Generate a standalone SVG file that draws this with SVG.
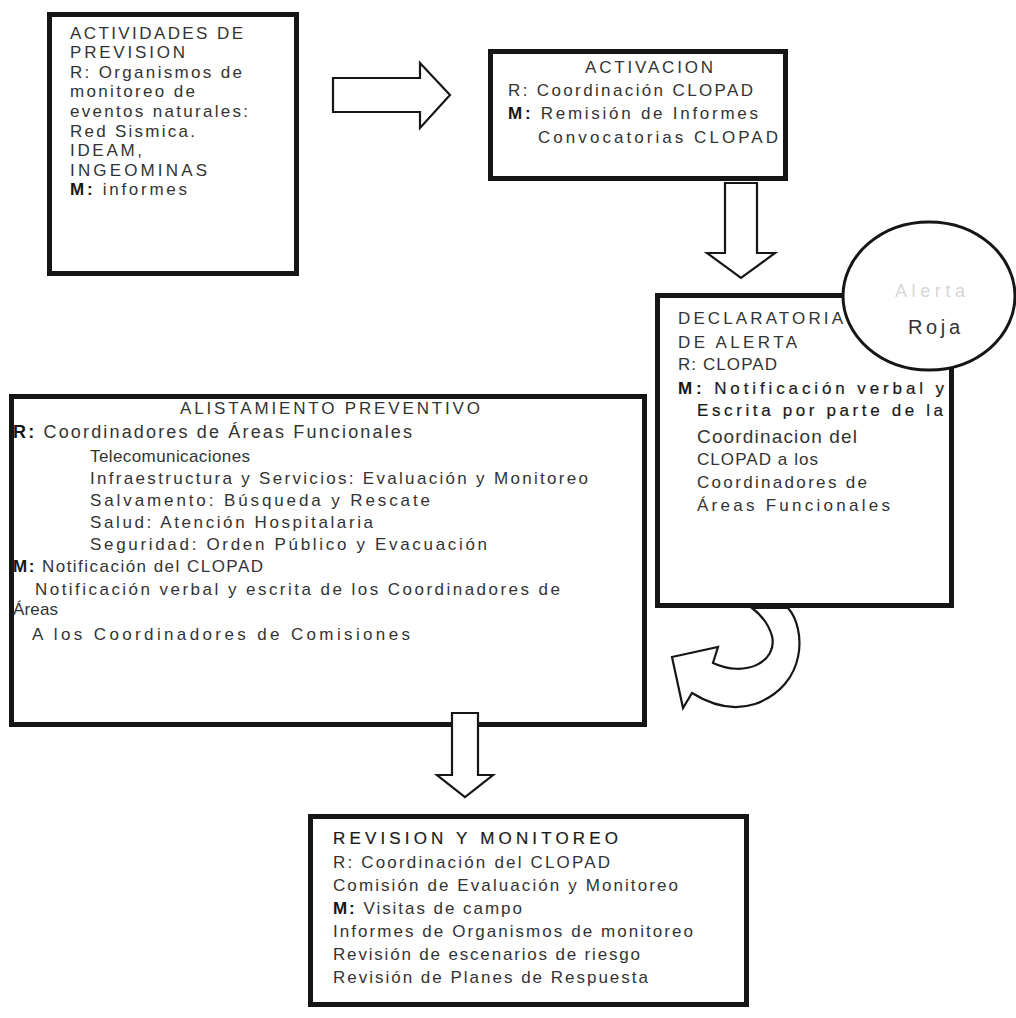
<svg xmlns="http://www.w3.org/2000/svg" width="1016" height="1018" viewBox="0 0 1016 1018">
<style>
.box{fill:#fff;stroke:#161616;stroke-width:5}
.circ{fill:#fff;stroke:#161616;stroke-width:3}
.arr{fill:#fff;stroke:#161616;stroke-width:2.2;stroke-linejoin:miter}
text{font-family:"Liberation Sans",Arial,sans-serif;fill:#333;font-size:17px}
.b{font-weight:bold;fill:#161616}
.sb{fill:#1a1a1a;stroke:#1a1a1a;stroke-width:0.2}
.big{font-size:18px}
.faint{fill:#d6d6d6}
</style>
<rect width="1016" height="1018" fill="#fff"/>

<g id="node-prevision">
<rect class="box" x="49.5" y="14.5" width="247" height="259"/>
<text x="70" y="39" textLength="173">ACTIVIDADES DE</text>
<text x="70" y="58" textLength="115">PREVISION</text>
<text x="70" y="78" textLength="172">R: Organismos de</text>
<text x="70" y="97" textLength="125">monitoreo de</text>
<text x="70" y="117" textLength="178">eventos naturales:</text>
<text x="70" y="137" textLength="125">Red Sismica.</text>
<text x="70" y="156" textLength="72">IDEAM,</text>
<text x="70" y="176" textLength="137">INGEOMINAS</text>
<text x="70" y="195" textLength="117"><tspan class="b">M:</tspan> informes</text>
</g>

<g id="node-activacion">
<rect class="box" x="490.5" y="51.5" width="295" height="127"/>
<text x="585" y="73" textLength="128">ACTIVACION</text>
<text x="508" y="96" textLength="245">R: Coordinación CLOPAD</text>
<text x="508" y="119" textLength="250"><tspan class="b">M:</tspan> Remisión de Informes</text>
<text x="538" y="143" textLength="240">Convocatorias CLOPAD</text>
</g>

<g id="node-declaratoria">
<rect class="box" x="657.5" y="295.5" width="294" height="310"/>
<text x="678" y="324" textLength="165">DECLARATORIA</text>
<text x="678" y="348" textLength="119">DE ALERTA</text>
<text x="678" y="370" textLength="99">R: CLOPAD</text>
<text x="678" y="394" textLength="266" class="sb"><tspan class="b" style="stroke:none">M:</tspan> Notificación  verbal y</text>
<text x="697" y="416" textLength="246" class="sb">Escrita por parte de la</text>
<text x="697" y="443" textLength="160" style="font-size:19px">Coordinacion del</text>
<text x="697" y="465" textLength="121">CLOPAD a los</text>
<text x="697" y="488" textLength="170">Coordinadores de</text>
<text x="697" y="511" textLength="193">Áreas Funcionales</text>
</g>

<g id="node-alerta">
<ellipse class="circ" cx="929" cy="296" rx="86" ry="74"/>
<text class="faint" x="895" y="297" textLength="70" style="font-size:18px">Alerta</text>
<text x="908" y="334" textLength="52" style="font-size:20px">Roja</text>
</g>

<g id="node-alistamiento">
<rect class="box" x="11.5" y="396.5" width="633" height="328"/>
<text x="180" y="414" textLength="300">ALISTAMIENTO PREVENTIVO</text>
<text x="13" y="438" textLength="399" class="big"><tspan class="b">R:</tspan> Coordinadores de Áreas Funcionales</text>
<text x="90" y="462" textLength="160">Telecomunicaciones</text>
<text x="90" y="484" textLength="498">Infraestructura y Servicios: Evaluación y Monitoreo</text>
<text x="90" y="506" textLength="340">Salvamento: Búsqueda y Rescate</text>
<text x="90" y="528" textLength="283">Salud: Atención Hospitalaria</text>
<text x="90" y="550" textLength="397">Seguridad: Orden Público y Evacuación</text>
<text x="13" y="572" textLength="250"><tspan class="b">M:</tspan> Notificación del CLOPAD</text>
<text x="35" y="595" textLength="525">Notificación verbal y escrita de los Coordinadores de</text>
<text x="13" y="615" textLength="45">Áreas</text>
<text x="32" y="640" textLength="378">A los Coordinadores de Comisiones</text>
</g>

<g id="node-revision">
<rect class="box" x="310.5" y="816.5" width="436" height="188"/>
<text x="333" y="844" textLength="285" class="sb">REVISION Y MONITOREO</text>
<text x="333" y="868" textLength="277">R: Coordinación del CLOPAD</text>
<text x="333" y="891" textLength="345">Comisión de Evaluación y Monitoreo</text>
<text x="333" y="914" textLength="189"><tspan class="b">M:</tspan> Visitas de campo</text>
<text x="333" y="937" textLength="360">Informes de Organismos de monitoreo</text>
<text x="333" y="960" textLength="307">Revisión de escenarios de riesgo</text>
<text x="333" y="983" textLength="315">Revisión de Planes de Respuesta</text>
</g>

<g id="connectors">
<polygon class="arr" points="333,78 420,78 420,63 450,95 420,128 420,112 333,112"/>
<polygon class="arr" points="725,183 757,183 757,253 775,253 741,278 707,253 725,253"/>
<path class="arr" d="M672,657 L718,647 L713,663 C745,678 778,662 772,636 C768,622 760,614 752,608 L788,608 C806,628 808,685 755,704 C730,712 708,703 692,693 L683,708 Z"/>
<polygon class="arr" points="452,713 478,713 478,775 493,775 465,797 437,775 452,775"/>
</g>
</svg>
